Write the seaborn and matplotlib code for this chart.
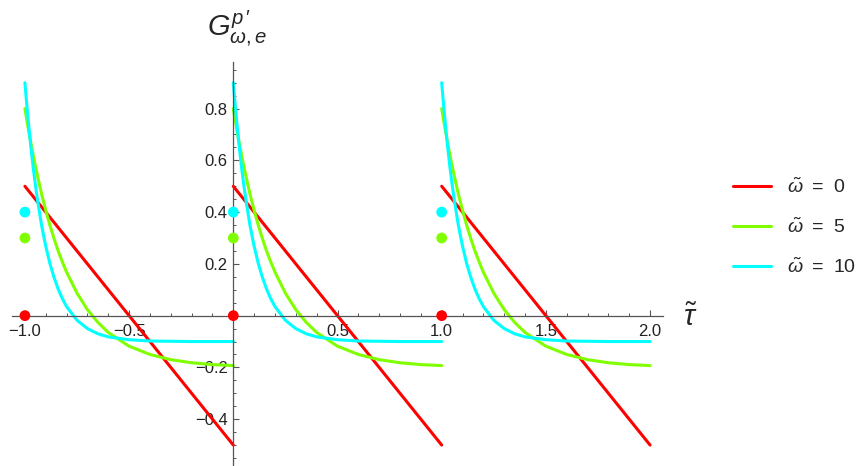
import numpy as np
import pandas as pd
import seaborn as sns
import matplotlib.pyplot as plt
from matplotlib.ticker import MultipleLocator

t = [0, 0.01, 0.02, 0.03, 0.04, 0.05, 0.06, 0.08, 0.1, 0.12, 0.14, 0.16, 0.18, 0.2,
     0.25, 0.3, 0.35, 0.4, 0.5, 0.6, 0.7, 0.8, 0.9, 1.0]
g_w0 = [0.5, 0.49, 0.48, 0.47, 0.46, 0.45, 0.44, 0.42, 0.4, 0.38, 0.36, 0.34, 0.32, 0.3,
        0.25, 0.2, 0.15, 0.1, 0.0, -0.1, -0.2, -0.3, -0.4, -0.5]
g_w5 = [0.8, 0.751, 0.705, 0.661, 0.619, 0.579, 0.541, 0.47, 0.407, 0.349, 0.297, 0.249, 0.207, 0.168,
        0.087, 0.023, -0.026, -0.065, -0.118, -0.15, -0.17, -0.182, -0.189, -0.193]
g_w10 = [0.9, 0.805, 0.719, 0.641, 0.57, 0.507, 0.449, 0.349, 0.268, 0.201, 0.147, 0.102, 0.065, 0.035,
         -0.018, -0.05, -0.07, -0.082, -0.093, -0.098, -0.099, -0.1, -0.1, -0.1]
period_starts = [-1, 0, 1]

labels = [r'$\tilde{ω}$' + '\u2002=\u20020', r'$\tilde{ω}$' + '\u2002=\u20025',
          r'$\tilde{ω}$' + '\u2002=\u200210']
colors = ['#ff0000', '#80ff00', '#00ffff']

# dots at the period starts
dot_values = [0.0, 0.3, 0.4]

rows = []
for p in period_starts:
    for lab, vals in zip(labels, [g_w0, g_w5, g_w10]):
        for tt, v in zip(t, vals):
            rows.append({'tau': p + tt, 'G': v, 'omega': lab, 'period': p})
df = pd.DataFrame(rows)

dots = pd.DataFrame([{'tau': p, 'G': v, 'omega': lab}
                     for p in period_starts for lab, v in zip(labels, dot_values)])

sns.set_style('white')
plt.rcParams['font.family'] = ['Liberation Sans', 'DejaVu Sans']
plt.rcParams['mathtext.fontset'] = 'custom'
plt.rcParams['mathtext.rm'] = 'Liberation Sans'
plt.rcParams['mathtext.it'] = 'Liberation Sans:italic'
plt.rcParams['axes.unicode_minus'] = True

fig = plt.figure(figsize=(8.57, 4.66), dpi=100)
ax = fig.add_axes([12 / 857, 1 / 466, (663 - 12) / 857, (465 - 62) / 466])

sns.lineplot(data=df, x='tau', y='G', hue='omega', units='period', estimator=None,
             sort=False, palette=colors, hue_order=labels, linewidth=2.2, ax=ax)
sns.scatterplot(data=dots, x='tau', y='G', hue='omega', palette=colors, hue_order=labels,
                s=60, linewidth=0, legend=False, zorder=5, clip_on=False, ax=ax)

ax.set_xlim(-1.062, 2.062)
ax.set_ylim(-0.577, 0.98)

for s in ['top', 'right']:
    ax.spines[s].set_visible(False)
for s in ['left', 'bottom']:
    ax.spines[s].set_position(('data', 0))
    ax.spines[s].set_color('#555555')
    ax.spines[s].set_linewidth(0.9)

ax.set_xticks([-1.0, -0.5, 0.5, 1.0, 1.5, 2.0])
ax.set_yticks([-0.4, -0.2, 0.2, 0.4, 0.6, 0.8])
ax.xaxis.set_minor_locator(MultipleLocator(0.1))
ax.yaxis.set_minor_locator(MultipleLocator(0.05))
ax.tick_params(which='both', bottom=True, left=True, top=False, right=False)
ax.tick_params(which='major', direction='in', length=4.5, width=0.8, color='#555555',
               labelsize=12, labelcolor='#222222')
ax.tick_params(axis='x', which='major', pad=6)
ax.tick_params(axis='y', which='major', pad=4)
ax.tick_params(which='minor', direction='in', length=2.5, width=0.7, color='#555555')
ax.set_xlabel('')
ax.set_ylabel('')

fig.text(237 / 857, 1 - 28 / 466, r'$G^{p\,\prime}_{\omega,e}$', ha='center', va='center', fontsize=21)
fig.text(690 / 857, 1 - 318 / 466, r'$\tilde{τ}$', ha='center', va='center', fontsize=21)

ax.legend(loc='center left', bbox_to_anchor=(715 / 857, 1 - 227 / 466),
          bbox_transform=fig.transFigure, frameon=False, title=None, fontsize=14,
          handlelength=2.0, handletextpad=0.8, labelspacing=1.05)

fig.savefig('out.png', dpi=100)
